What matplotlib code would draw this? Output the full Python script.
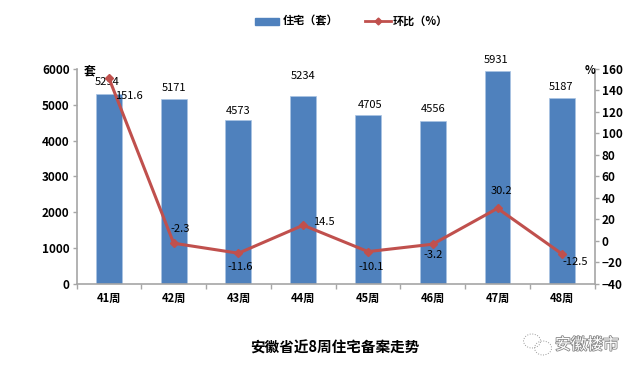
import matplotlib
matplotlib.use('Agg')
import matplotlib.pyplot as plt
import matplotlib.patheffects as pe
from matplotlib.patches import Ellipse
import numpy as np

plt.rcParams['font.family'] = ['Noto Sans CJK SC', 'DejaVu Sans']

weeks = ['41周', '42周', '43周', '44周', '45周', '46周', '47周', '48周']
houses = [5294, 5171, 4573, 5234, 4705, 4556, 5931, 5187]
change = [151.6, -2.3, -11.6, 14.5, -10.1, -3.2, 30.2, -12.5]

# 標籤偏移 (像素)
house_offset = [(-2, 12), (0, 11), (0, 9), (0, 20), (2, 10), (0, 12), (-2, 11), (-1, 11)]
change_offset = [(20, -18), (7, 14), (2, -14), (21, 3), (3, -15), (0, -11), (4, 17), (13, -8)]

fig = plt.figure(figsize=(6.4, 3.74), dpi=100)
ax = fig.add_axes([76.5 / 640, 1 - 283.7 / 374, 518.2 / 640, 214.7 / 374])
x = np.arange(len(weeks))

# 柱狀圖
ax.bar(x, houses, width=0.4, color='#4f81bd', edgecolor='#a9c4e4', linewidth=0.5, zorder=2)
ax.set_xlim(-0.5, 7.5)
ax.set_ylim(0, 6000)
ax.set_yticks(range(0, 6001, 1000))
ax.set_xticks(np.arange(-0.5, 8, 1))
ax.set_xticklabels([])
ax.tick_params(axis='x', length=3.6, width=1, color='#a6a6a6')
ax.tick_params(axis='y', length=3, width=1, color='#a6a6a6', labelsize=8.5, pad=2)
for lab in ax.get_yticklabels():
    lab.set_fontweight('bold')
for s in ['top', 'right']:
    ax.spines[s].set_visible(False)
for s in ['left', 'bottom']:
    ax.spines[s].set_color('#a6a6a6')
    ax.spines[s].set_linewidth(1.2)
for i, w in enumerate(weeks):
    ax.annotate(w, (i, 0), xytext=(0, -15), textcoords='offset pixels', ha='center',
                va='center', fontsize=8, fontweight='bold')
for i, v in enumerate(houses):
    ax.annotate(str(v), (i, v), xytext=house_offset[i], textcoords='offset pixels',
                ha='center', va='center', fontsize=8, zorder=6)

# 折線圖 (右軸)
ax2 = ax.twinx()
ax2.plot(x, change, color='#c0504d', linewidth=2.2, marker='D', markersize=4.2, zorder=5,
         solid_joinstyle='round')
ax2.set_ylim(-40, 160)
ax2.set_yticks(range(-40, 161, 20))
ax2.tick_params(axis='y', length=3, width=1, color='#a6a6a6', labelsize=8.5, pad=2)
for lab in ax2.get_yticklabels():
    lab.set_fontweight('bold')
for s in ['top', 'left', 'bottom']:
    ax2.spines[s].set_visible(False)
ax2.spines['right'].set_color('#a6a6a6')
ax2.spines['right'].set_linewidth(1.2)
for i, v in enumerate(change):
    ax2.annotate(f'{v}', (i, v), xytext=change_offset[i], textcoords='offset pixels',
                 ha='center', va='center', fontsize=8, zorder=6)

# 單位
fig.text(90 / 640, 1 - 71 / 374, '套', fontsize=8.5, fontweight='bold', ha='center', va='center')
fig.text(590 / 640, 1 - 70 / 374, '%', fontsize=8, fontweight='bold', ha='center', va='center')

# 圖例
fig.patches.append(plt.Rectangle((255 / 640, 1 - 24.5 / 374), 24 / 640, 7 / 374, color='#4f81bd',
                                 transform=fig.transFigure))
fig.text(283 / 640, 1 - 21 / 374, '住宅（套）', fontsize=8, fontweight='bold', ha='left', va='center')
fig.add_artist(plt.Line2D([365 / 640, 391 / 640], [1 - 21 / 374] * 2, color='#c0504d', linewidth=2,
                          transform=fig.transFigure))
fig.add_artist(plt.Line2D([378 / 640], [1 - 21 / 374], color='#c0504d', marker='D', markersize=3.5,
                          transform=fig.transFigure))
fig.text(393 / 640, 1 - 21 / 374, '环比（%）', fontsize=8, fontweight='bold', ha='left', va='center')

# 標題
fig.text(335 / 640, 1 - 348 / 374, '安徽省近8周住宅备案走势', fontsize=10.5, fontweight='bold',
         ha='center', va='center')

# 浮水印
for cx, cy, w, h in [(532, 341, 17, 14), (543, 348, 17, 14)]:
    fig.add_artist(Ellipse((cx / 640, 1 - cy / 374), w / 640, h / 374, fill=False, edgecolor='#999999',
                           linewidth=0.7, linestyle=':', transform=fig.transFigure))
fig.text(587 / 640, 1 - 345 / 374, '安徽楼市', fontsize=11.5, color='#ffffff', ha='center', va='center',
         path_effects=[pe.withStroke(linewidth=1.2, foreground='#888888')])

fig.savefig('out.png', dpi=100)
